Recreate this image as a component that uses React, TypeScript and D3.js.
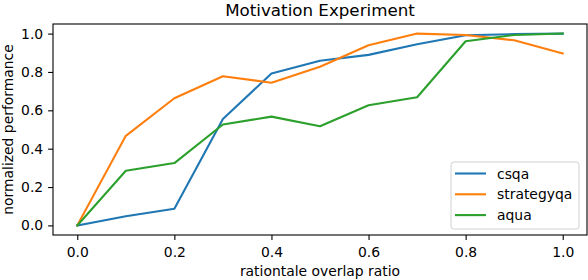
import React, { useEffect, useRef } from 'react';
import * as d3 from 'd3';

const ratios = [0.0, 0.1, 0.2, 0.3, 0.4, 0.5, 0.6, 0.7, 0.8, 0.9, 1.0];
const csqa = [0.0, 0.048, 0.087, 0.555, 0.792, 0.858, 0.889, 0.944, 0.991, 0.997, 1.0];
const strategyqa = [0.0, 0.467, 0.663, 0.778, 0.744, 0.827, 0.939, 1.0, 0.993, 0.965, 0.896];
const aqua = [0.0, 0.285, 0.325, 0.526, 0.567, 0.517, 0.626, 0.668, 0.96, 0.993, 1.0];
const seriesNames = ['csqa', 'strategyqa', 'aqua'];
const xTicks = [0.0, 0.2, 0.4, 0.6, 0.8, 1.0];
const yTicks = [0.0, 0.2, 0.4, 0.6, 0.8, 1.0];

const colors = ['#1f77b4', '#ff7f0e', '#2ca02c'];
const font = '"DejaVu Sans", sans-serif';

export default function App() {
    const ref = useRef<SVGSVGElement>(null);

    useEffect(() => {
        const width = 588;
        const height = 280;
        const m = { left: 53, right: 1, top: 24, bottom: 45 };

        const svg = d3.select(ref.current);
        svg.selectAll('*').remove();
        svg.attr('width', width).attr('height', height);

        const x = d3.scaleLinear().domain([-0.05, 1.05]).range([m.left, width - m.right]);
        const y = d3.scaleLinear().domain([-0.05, 1.05]).range([height - m.bottom, m.top]);

        // axes
        const xAxis = svg.append('g')
            .attr('transform', `translate(0,${height - m.bottom})`)
            .call(d3.axisBottom(x).tickValues(xTicks).tickFormat(d3.format('.1f')).tickSize(4.9).tickPadding(7.5));
        const yAxis = svg.append('g')
            .attr('transform', `translate(${m.left},0)`)
            .call(d3.axisLeft(y).tickValues(yTicks).tickFormat(d3.format('.1f')).tickSize(4.9).tickPadding(4.9));

        for (const ax of [xAxis, yAxis]) {
            ax.select('.domain').remove();
            ax.selectAll('line').attr('stroke', '#000').attr('stroke-width', 1.1);
            ax.selectAll('text').attr('font-family', font).attr('font-size', 13.9).attr('fill', '#000');
        }

        // lines
        const allSeries = [csqa, strategyqa, aqua];
        const line = d3.line<number>()
            .x((d, i) => x(ratios[i]))
            .y(d => y(d));
        allSeries.forEach((s, i) => {
            svg.append('path')
                .attr('d', line(s))
                .attr('fill', 'none')
                .attr('stroke', colors[i])
                .attr('stroke-width', 2.1)
                .attr('stroke-linejoin', 'round')
                .attr('stroke-linecap', 'square');
        });

        // frame
        svg.append('rect')
            .attr('x', m.left).attr('y', m.top)
            .attr('width', width - m.left - m.right)
            .attr('height', height - m.top - m.bottom)
            .attr('fill', 'none')
            .attr('stroke', '#000')
            .attr('stroke-width', 1.1);

        // legend
        const lg = svg.append('g').attr('transform', 'translate(451,162)');
        lg.append('rect')
            .attr('width', 128).attr('height', 67)
            .attr('rx', 2.8)
            .attr('fill', 'white').attr('fill-opacity', 0.8)
            .attr('stroke', '#d0d0d0').attr('stroke-width', 1);
        seriesNames.forEach((name, i) => {
            const ly = 11.5 + i * 20.8;
            lg.append('line')
                .attr('x1', 4).attr('x2', 35)
                .attr('y1', ly).attr('y2', ly)
                .attr('stroke', colors[i]).attr('stroke-width', 2.1);
            lg.append('text')
                .attr('x', 46).attr('y', ly + 5)
                .attr('font-family', font).attr('font-size', 13.9)
                .text(name);
        });

        // labels
        svg.append('text')
            .attr('x', (m.left + width - m.right) / 2).attr('y', 16)
            .attr('text-anchor', 'middle')
            .attr('font-family', font).attr('font-size', 16.7)
            .text('Motivation Experiment');
        svg.append('text')
            .attr('x', (m.left + width - m.right) / 2).attr('y', 276)
            .attr('text-anchor', 'middle')
            .attr('font-family', font).attr('font-size', 13.9)
            .text('rationtale overlap ratio');
        svg.append('text')
            .attr('transform', `translate(13,${(m.top + height - m.bottom) / 2}) rotate(-90)`)
            .attr('text-anchor', 'middle')
            .attr('font-family', font).attr('font-size', 13.9)
            .text('normalized performance');
    }, []);

    return (
        <svg ref={ref} style={{ position: 'absolute', left: 0, top: 0, background: 'white' }}></svg>
    );
}
